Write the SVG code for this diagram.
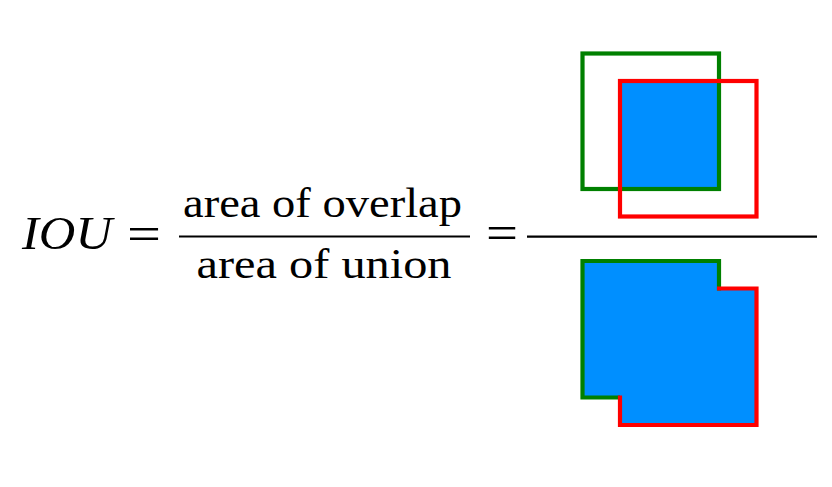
<svg xmlns="http://www.w3.org/2000/svg" width="832" height="487" viewBox="0 0 832 487">
<style>
.t{font-family:"Liberation Serif","Times New Roman",serif;fill:#000}
.g{fill:none;stroke:#008000;stroke-width:4.2;stroke-linejoin:miter}
.r{fill:none;stroke:#ff0000;stroke-width:4.2;stroke-linejoin:miter}
.b{fill:#008fff;stroke:none}
.bar{stroke:#000;stroke-width:2.2}
</style>
<rect width="832" height="487" fill="#fff"/>
<g id="formula">
<text class="t" x="22" y="249" font-size="46" font-style="italic" textLength="90" lengthAdjust="spacingAndGlyphs">IOU</text>
<text class="t" x="127" y="249.5" font-size="48" textLength="34" lengthAdjust="spacingAndGlyphs">=</text>
<text class="t" x="183" y="217" font-size="42" textLength="279" lengthAdjust="spacingAndGlyphs">area of overlap</text>
<line class="bar" x1="179" y1="236.5" x2="470" y2="236.5"/>
<text class="t" x="196.5" y="278" font-size="42" textLength="255" lengthAdjust="spacingAndGlyphs">area of union</text>
<text class="t" x="486" y="249" font-size="48" textLength="32" lengthAdjust="spacingAndGlyphs">=</text>
<line class="bar" x1="527" y1="236.7" x2="817" y2="236.7"/>
</g>
<g id="overlap">
<rect class="b" x="620" y="81" width="99" height="108"/>
<rect class="g" x="582.5" y="53.5" width="136.5" height="135.5"/>
<rect class="r" x="620" y="81" width="136.5" height="135.5"/>
</g>
<g id="union">
<polygon class="b" points="582.5,261 719,261 719,288.5 756.5,288.5 756.5,425 620,425 620,397.5 582.5,397.5"/>
<polyline class="g" points="620,397.5 582.5,397.5 582.5,261 719,261 719,290.5"/>
<polyline class="r" points="717,288.5 756.5,288.5 756.5,425 620,425 620,395.5"/>
</g>
</svg>
